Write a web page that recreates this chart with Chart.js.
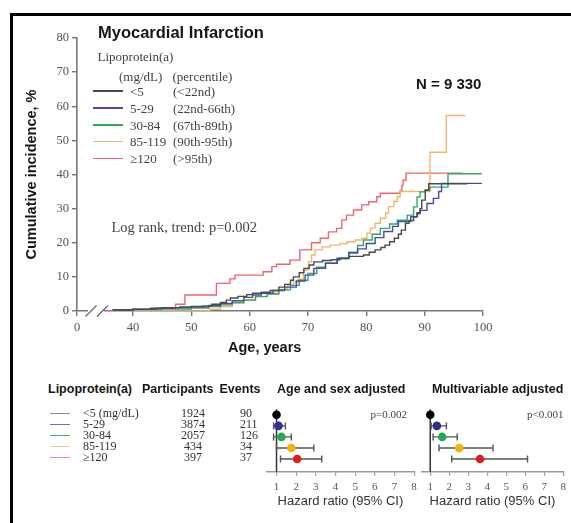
<!DOCTYPE html>
<html>
<head>
<meta charset="utf-8">
<script src="https://cdn.jsdelivr.net/npm/chart.js@4.4.1/dist/chart.umd.min.js"></script>
<style>
  html, body { margin: 0; padding: 0; background: #fff; }
  body { position: relative; width: 571px; height: 523px; overflow: hidden; font-family: "Liberation Serif", serif; color: #444; }
  canvas { position: absolute; }
  .t { position: absolute; white-space: nowrap; line-height: 1.2; transform: translateY(-50%); }
  .c { transform: translate(-50%, -50%); }
  .b { font-family: "Liberation Sans", Arial, sans-serif; font-weight: bold; color: #161616; }
  .ln { position: absolute; height: 1.5px; }
  .frame { position: absolute; background: #000; }
</style>
</head>
<body>
<div class="frame" style="left:9.5px;top:12.5px;width:561.5px;height:3px"></div>
<div class="frame" style="left:9.5px;top:12.5px;width:3px;height:511px"></div>

<canvas id="km" width="571" height="360" style="left:0;top:0"></canvas>
<canvas id="fpAge" width="175" height="125" style="left:250px;top:395px"></canvas>
<canvas id="fpMulti" width="161" height="125" style="left:410px;top:395px"></canvas>

<div class="t b" style="left:98px;top:32.5px;font-size:16.5px">Myocardial Infarction</div>
<div class="t" style="left:97.5px;top:56.5px;font-size:13px">Lipoprotein(a)</div>
<div class="t" style="left:119px;top:76.5px;font-size:13px">(mg/dL)</div>
<div class="t" style="left:172.5px;top:76.5px;font-size:13px">(percentile)</div>
<div class="t b" style="left:416px;top:83.5px;font-size:15px">N = 9 330</div>
<div class="t" style="left:111.5px;top:227.5px;font-size:14.5px">Log rank, trend: p=0.002</div>
<div class="t b" style="left:228px;top:347.5px;font-size:14.5px">Age, years</div>

<div class="t b" style="left:48px;top:389px;font-size:12.5px">Lipoprotein(a)</div>
<div class="t b" style="left:142px;top:389px;font-size:12.5px">Participants</div>
<div class="t b" style="left:219.5px;top:389px;font-size:12.5px">Events</div>
<div class="t b" style="left:277px;top:389px;font-size:12.5px">Age and sex adjusted</div>
<div class="t b" style="left:432px;top:389px;font-size:12.5px">Multivariable adjusted</div>
<div class="t" style="left:370.5px;top:415px;font-size:11px">p=0.002</div>
<div class="t" style="left:527px;top:415px;font-size:11px">p&lt;0.001</div>

<script>
// groups
const groups = ['<5', '5-29', '30-84', '85-119', '\u2265120'];
const tableLabels = ['<5 (mg/dL)', '5-29', '30-84', '85-119', '\u2265120'];
const percentiles = ['(<22nd)', '(22nd-66th)', '(67th-89th)', '(90th-95th)', '(>95th)'];
const participants = [1924, 3874, 2057, 434, 397];
const events = [90, 211, 126, 34, 37];

// Kaplan-Meier curves (age, cumulative incidence %)
const ageLt5 = [36.5, 40, 43, 45, 48, 50, 52, 53.5, 55, 56, 56.7, 58, 59.5, 60.5, 62, 63.5, 65, 66, 67, 67.5, 68.5, 69.3, 70.2, 71, 72.5, 74, 75.5, 77, 79.5, 80.5, 81.5, 82.5, 83.2, 84, 84.8, 85.5, 86, 86.7, 87.3, 88.1, 88.7, 89.2, 89.5, 90.1, 90.7, 97.3];
const incLt5 = [0.3, 0.5, 0.8, 1.0, 1.2, 1.3, 1.5, 2.0, 2.5, 3.2, 3.8, 4.3, 4.8, 5.2, 5.5, 6.0, 7.0, 7.8, 9.0, 10.0, 11.2, 12.5, 13.5, 14.4, 14.8, 15.0, 15.5, 16.0, 16.4, 17.2, 17.9, 18.6, 19.3, 20.3, 21.3, 22.5, 23.7, 25.7, 26.5, 27.6, 28.8, 30.0, 32.5, 35.4, 37.3, 37.3];

const age5to29 = [36.5, 40, 44, 47, 50, 53, 55, 57, 59, 60.5, 62, 64, 66, 68, 69.5, 71, 73, 75, 77, 78.5, 80, 81.5, 83, 84.5, 85.5, 87.6, 88.7, 89.2, 90.4, 91.5, 92.4, 92.9, 99.8];
const inc5to29 = [0.3, 0.5, 0.8, 1.0, 1.2, 1.6, 2.2, 3.0, 4.0, 4.7, 5.2, 6.0, 7.0, 8.8, 10.5, 12.5, 14.0, 15.5, 17.0, 18.2, 19.8, 21.5, 23.3, 24.8, 26.2, 27.6, 28.5, 29.5, 31.5, 33.0, 35.0, 37.4, 37.4];

const age30to84 = [36.5, 40, 45, 50, 53, 55, 57, 59, 61, 63, 65, 67, 68.5, 70, 71.5, 73, 75, 77, 78.5, 79.5, 81, 82.4, 84, 85.3, 87, 88.1, 88.7, 89.2, 90.1, 90.9, 94, 99.8];
const inc30to84 = [0.3, 0.4, 0.6, 0.9, 1.3, 1.8, 2.5, 3.2, 4.2, 5.0, 6.2, 7.5, 9.0, 11.0, 12.8, 14.0, 15.3, 17.2, 19.2, 20.8, 22.5, 24.2, 25.5, 26.6, 28.1, 30.5, 33.4, 34.9, 35.5, 36.3, 40.2, 40.2];

const age85to119 = [36.5, 53.2, 55, 57, 59, 61, 63, 65, 66.5, 67.5, 68.3, 69.2, 70.1, 70.6, 71.2, 72.4, 73.8, 75.5, 76.7, 78.1, 79.2, 80.1, 80.7, 81.5, 82.4, 83.3, 83.8, 84.7, 85.3, 85.8, 90.9, 93.7, 97.0];
const inc85to119 = [0, 0.5, 1.3, 2.3, 3.3, 4.3, 5.2, 6.3, 7.5, 8.5, 9.3, 12.0, 14.4, 16.4, 17.9, 18.8, 19.3, 19.8, 20.3, 20.8, 21.3, 22.8, 24.3, 25.7, 27.2, 28.7, 30.6, 32.1, 33.5, 35.0, 46.5, 57.3, 57.3];

const age120 = [35.2, 47.3, 48.9, 54.3, 56.6, 57.5, 62.3, 63.8, 64.6, 66.9, 68.6, 70.6, 72.1, 73.5, 74.9, 75.8, 76.6, 77.8, 79.2, 80.4, 81.8, 82.4, 85.8, 86.1, 86.3, 86.8, 96.5];
const inc120 = [0, 2.0, 4.7, 8.1, 9.4, 10.5, 11.5, 13.0, 13.7, 14.9, 17.9, 20.0, 21.3, 23.2, 24.2, 26.7, 28.1, 29.6, 31.1, 32.0, 33.5, 34.5, 35.3, 36.8, 38.3, 40.4, 40.4];

// axis ticks (the 0 tick sits at the axis break)
const xTicks = [0, 40, 50, 60, 70, 80, 90, 100];
const xBreak = 30.4;
const yTicks = [0, 10, 20, 30, 40, 50, 60, 70, 80];
const hrTicks = [1, 2, 3, 4, 5, 6, 7, 8];

// hazard ratios (95% CI)
const hrAgeSex = [1, 1.1, 1.25, 1.75, 2.05];
const loAgeSex = [null, 0.85, 0.85, 1.0, 1.2];
const hiAgeSex = [null, 1.45, 1.75, 2.9, 3.3];
const hrMulti = [1, 1.35, 1.63, 2.52, 3.62];
const loMulti = [null, 1.05, 1.15, 1.46, 2.13];
const hiMulti = [null, 1.85, 2.42, 4.3, 6.12];

const lineColors = ['#4a4a4a', '#4848ad', '#2fab60', '#f6b468', '#ef6470'];
const tableLineColors = ['#8c8c8c', '#6f6fc4', '#3fb874', '#f8c58a', '#f48a94'];
const dotColors = ['#000000', '#2e3192', '#1faa50', '#f6b200', '#e8191b'];

const serif = 'Liberation Serif';
const sans = 'Liberation Sans';

function addText(text, left, top, size, extra) {
    const d = document.createElement('div');
    d.className = 't' + (extra ? ' ' + extra : '');
    d.textContent = text;
    d.style.left = left + 'px';
    d.style.top = top + 'px';
    d.style.fontSize = size + 'px';
    document.body.appendChild(d);
    return d;
}
function addLine(left, top, width, color) {
    const d = document.createElement('div');
    d.className = 'ln';
    d.style.left = left + 'px';
    d.style.top = (top - 0.75) + 'px';
    d.style.width = width + 'px';
    d.style.background = color;
    document.body.appendChild(d);
}

// legend inside the KM plot
const legendY = [91.5, 108.5, 125.5, 142, 159];
groups.forEach((g, i) => {
    addLine(93, legendY[i] - 0.5, 30, lineColors[i]);
    addText(g, 130, legendY[i], 13);
    addText(percentiles[i], 173, legendY[i], 13);
});

// table under the plot
tableLabels.forEach((g, i) => {
    const y = 412.8 + 11.1 * i;
    addLine(50, y + 0.5, 20, tableLineColors[i]);
    addText(g, 83, y, 12).style.color = '#333';
    addText(String(participants[i]), 193, y, 12, 'c').style.color = '#333';
    addText(String(events[i]), 240, y, 12).style.color = '#333';
});

const kmSeries = [
    { age: ageLt5, inc: incLt5 },
    { age: age5to29, inc: inc5to29 },
    { age: age30to84, inc: inc30to84 },
    { age: age85to119, inc: inc85to119 },
    { age: age120, inc: inc120 }
];

// white gap and // marks on the x axis
const axisBreak = {
    id: 'axisBreak',
    afterDraw(chart) {
        const ctx = chart.ctx;
        const y = chart.chartArea.bottom;
        ctx.save();
        ctx.fillStyle = '#fff';
        ctx.fillRect(88, y - 2, 16, 4);
        ctx.strokeStyle = '#6e6e6e';
        ctx.lineWidth = 1.4;
        ctx.beginPath();
        ctx.moveTo(85.5, y + 5.5); ctx.lineTo(96.5, y - 5.5);
        ctx.moveTo(97, y + 5.5); ctx.lineTo(108, y - 5.5);
        ctx.stroke();
        ctx.restore();
    }
};

new Chart(document.getElementById('km'), {
    type: 'line',
    data: {
        datasets: kmSeries.map((s, i) => ({
            label: groups[i],
            data: s.age.map((a, j) => ({ x: a, y: s.inc[j] })),
            borderColor: lineColors[i],
            borderWidth: 1.4,
            pointRadius: 0,
            stepped: 'before',
            fill: false
        }))
    },
    options: {
        responsive: false,
        animation: false,
        devicePixelRatio: 1,
        layout: { padding: { top: 38, right: 88, left: 0, bottom: 0 } },
        plugins: { legend: { display: false }, tooltip: { enabled: false } },
        scales: {
            x: {
                type: 'linear',
                min: xBreak,
                max: 100,
                afterBuildTicks: s => { s.ticks = xTicks.map(v => ({ value: v === 0 ? xBreak : v })); },
                afterFit: s => { s.height = 49; },
                ticks: {
                    callback: (v, i) => String(xTicks[i]),
                    font: { family: serif, size: 12.5 },
                    color: '#555',
                    padding: 4,
                    maxRotation: 0
                },
                grid: { drawOnChartArea: false, drawTicks: true, tickLength: 5, color: '#777', lineWidth: 1.4 },
                border: { color: '#777', width: 1.6 }
            },
            y: {
                min: 0,
                max: 80,
                afterBuildTicks: s => { s.ticks = yTicks.map(v => ({ value: v })); },
                afterFit: s => { s.width = 77; },
                ticks: { font: { family: serif, size: 12.5 }, color: '#555', padding: 3 },
                grid: { drawOnChartArea: false, drawTicks: true, tickLength: 5, color: '#777', lineWidth: 1.4 },
                border: { color: '#777', width: 1.6 },
                title: {
                    display: true,
                    text: 'Cumulative incidence, %',
                    font: { family: sans, size: 14.5, weight: 'bold' },
                    color: '#161616',
                    padding: { top: 22.8, bottom: 0 }
                }
            }
        }
    },
    plugins: [axisBreak]
});

// error bars + reference line at HR = 1
const errorBars = {
    id: 'errorBars',
    beforeDatasetsDraw(chart, args, opts) {
        const { ctx, scales: { x, y }, chartArea } = chart;
        ctx.save();
        ctx.strokeStyle = '#333';
        ctx.lineWidth = 1.5;
        ctx.beginPath();
        ctx.moveTo(x.getPixelForValue(1), y.getPixelForValue(-0.5));
        ctx.lineTo(x.getPixelForValue(1), chartArea.bottom);
        ctx.stroke();
        ctx.strokeStyle = '#555';
        ctx.lineWidth = 1.4;
        opts.lo.forEach((lo, i) => {
            if (lo === null) return;
            const py = y.getPixelForValue(i);
            const x1 = x.getPixelForValue(lo);
            const x2 = x.getPixelForValue(opts.hi[i]);
            ctx.beginPath();
            ctx.moveTo(x1, py); ctx.lineTo(x2, py);
            ctx.moveTo(x1, py - 3.5); ctx.lineTo(x1, py + 3.5);
            ctx.moveTo(x2, py - 3.5); ctx.lineTo(x2, py + 3.5);
            ctx.stroke();
        });
        ctx.restore();
    }
};

function forestPlot(id, hr, lo, hi, xMin, pad) {
    return new Chart(document.getElementById(id), {
        type: 'scatter',
        data: {
            datasets: [{
                data: hr.map((v, i) => ({ x: v, y: i })),
                backgroundColor: dotColors,
                borderWidth: 0,
                pointRadius: 4.3
            }]
        },
        options: {
            responsive: false,
            animation: false,
            devicePixelRatio: 1,
            layout: { padding: pad },
            plugins: { legend: { display: false }, tooltip: { enabled: false }, errorBars: { lo: lo, hi: hi } },
            scales: {
                x: {
                    type: 'linear',
                    min: xMin,
                    max: 8,
                    afterBuildTicks: s => { s.ticks = hrTicks.map(v => ({ value: v })); },
                    afterFit: s => { s.height = 48.3; },
                    ticks: { font: { family: serif, size: 11 }, color: '#555', padding: 5, maxRotation: 0 },
                    grid: { drawOnChartArea: false, drawTicks: true, tickLength: 4, color: '#999', lineWidth: 1.2 },
                    border: { color: '#999', width: 1.4 },
                    title: {
                        display: true,
                        text: 'Hazard ratio (95% CI)',
                        font: { family: sans, size: 13 },
                        color: '#333',
                        padding: { top: 0, bottom: 10.5 }
                    }
                },
                y: { display: false, min: -0.8, max: 5.15, reverse: true }
            }
        },
        plugins: [errorBars]
    });
}

forestPlot('fpAge', hrAgeSex, loAgeSex, hiAgeSex, 0.5, { left: 16.7, right: 10.9, top: 11, bottom: 0 });
forestPlot('fpMulti', hrMulti, loMulti, hiMulti, 0.55, { left: 11.7, right: 3.3, top: 11, bottom: 0 });
</script>
</body>
</html>
